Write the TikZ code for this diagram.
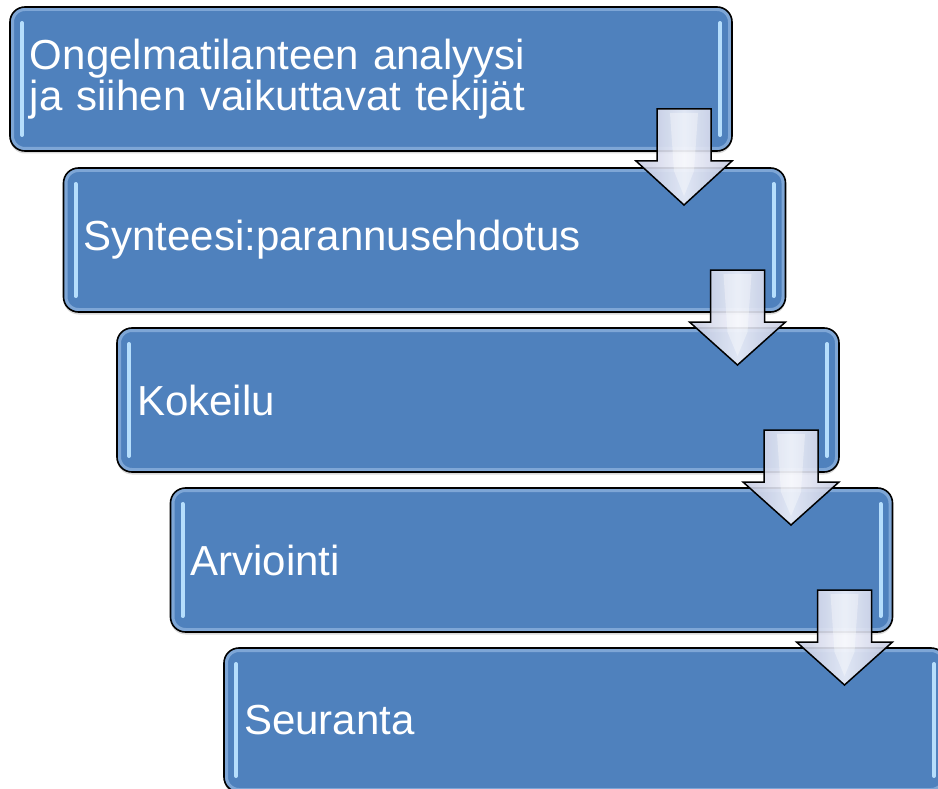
\documentclass[tikz,border=0pt]{standalone}
\usepackage{fontspec}
\setmainfont{Liberation Sans}
\usetikzlibrary{calc,shadows}

\definecolor{stagefill}{RGB}{79,129,189}
\definecolor{stagerim}{RGB}{165,198,235}
\definecolor{stageglint}{RGB}{182,222,252}
\definecolor{arrowside}{RGB}{196,201,224}
\definecolor{arrowmid}{RGB}{240,242,251}

\tikzset{
  stage/.style={fill=stagefill, rounded corners=15pt, outer sep=0pt,
    minimum width=722pt, minimum height=144pt, anchor=north west,
    inner xsep=20pt, inner ysep=0pt, text width=682pt, align=left,
    text=white, font=\fontsize{42}{41}\selectfont,
    drop shadow={shadow xshift=0pt, shadow yshift=-2.5pt, opacity=0.3}},
  stageedge/.style={draw=black, line width=1.6pt, rounded corners=15pt},
  stagerimline/.style={draw=stagerim, line width=8pt, rounded corners=15pt, opacity=0.55},
  glint/.style={draw=stageglint, line width=4pt, line cap=round},
  flowarrow/.style={draw=black, line width=1.5pt, line join=miter,
    left color=arrowside, right color=arrowside, middle color=arrowmid, fill opacity=0.9},
  arrowshine/.style={fill=white, opacity=0.35},
}

% bevelled rim, edge and side glints of a stage box
\newcommand{\stagedeco}[1]{%
  \begin{scope}
    \clip[rounded corners=15pt] (#1.north west) rectangle (#1.south east);
    \draw[stagerimline] (#1.north west) rectangle (#1.south east);
  \end{scope}
  \draw[glint] ($(#1.north west)+(12,16)$) -- ($(#1.south west)+(12,-16)$);
  \draw[glint] ($(#1.north east)+(-12,16)$) -- ($(#1.south east)+(-12,-16)$);
  \draw[stageedge] (#1.north west) rectangle (#1.south east);
}

% block arrow leading from one stage box down into the next:
% its tip reaches into the next box, 37pt below that box's top edge
\newcommand{\stepdown}[2]{%
  \coordinate (tip) at ($(#1.south east)+(-48,0)$);
  \coordinate (tip) at (tip |- {$(#2.north)+(0,37)$});
  \draw[flowarrow]
    ($(#1.south east)+(-75,-42)$) -- ($(#1.south east)+(-21,-42)$)
    -- ($(#1.south east)+(-21,10)$) -- ($(#1.south east)+(0,10)$)
    -- (tip)
    -- ($(#1.south east)+(-96,10)$) -- ($(#1.south east)+(-75,10)$) -- cycle;
  \fill[arrowshine]
    ($(#1.south east)+(-62,-38)$) -- ($(#1.south east)+(-34,-38)$)
    -- ($(#1.south east)+(-38,20)$) -- ($(tip)+(0,-9)$)
    -- ($(#1.south east)+(-58,20)$) -- cycle;
}

\begin{document}
\begin{tikzpicture}[x=1pt,y=-1pt]
  \useasboundingbox (0,0) rectangle (938,789);
  \clip (0,0) rectangle (938,789);

  \node[stage] (s1) at (10,7) {Ongelmatilanteen analyysi\\ja siihen vaikuttavat tekijät};
  \stagedeco{s1}
  \node[stage] (s2) at (63.5,168) {Synteesi:parannusehdotus};
  \stagedeco{s2}
  \node[stage] (s3) at (117,328) {Kokeilu};
  \stagedeco{s3}
  \node[stage] (s4) at (170.5,488) {Arviointi};
  \stagedeco{s4}
  \node[stage] (s5) at (224,648) {Seuranta};
  \stagedeco{s5}

  \stepdown{s1}{s2}
  \stepdown{s2}{s3}
  \stepdown{s3}{s4}
  \stepdown{s4}{s5}
\end{tikzpicture}
\end{document}
